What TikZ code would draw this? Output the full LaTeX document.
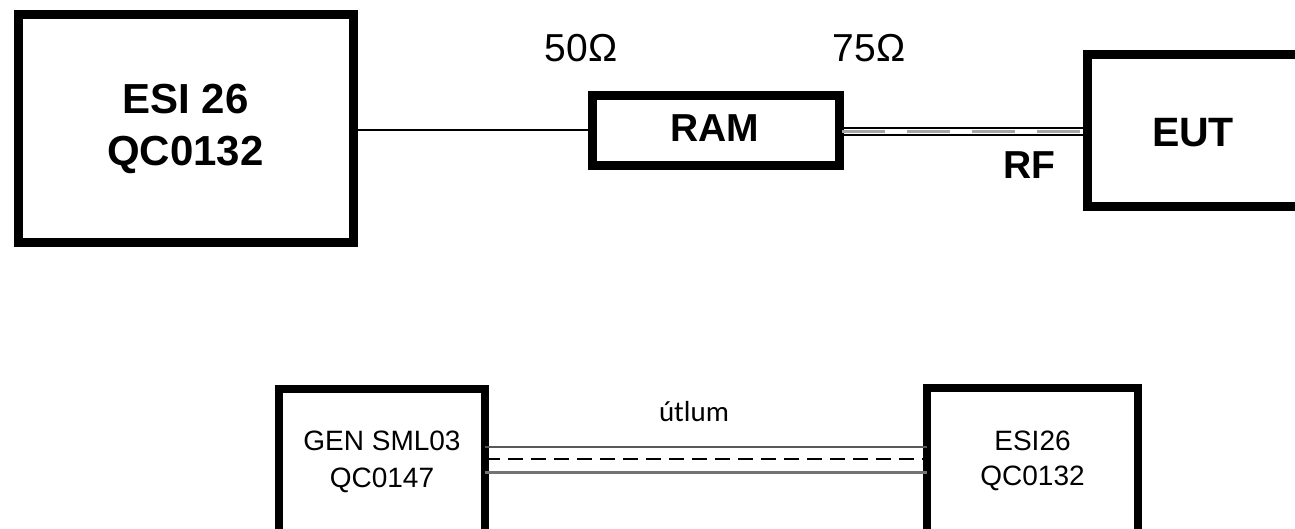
\documentclass[tikz,border=0pt]{standalone}
\usepackage{fontspec}
\setmainfont{Liberation Sans}
\newfontfamily\calib{Carlito}
\begin{document}
\begin{tikzpicture}[x=1pt,y=-1pt,
  bigbox/.style={draw=black,line width=9pt,fill=white,inner sep=0pt,outer sep=0pt,align=center},
  smallbox/.style={draw=black,line width=8pt,fill=white,inner sep=0pt,outer sep=0pt,align=center},
  lbl/.style={inner sep=0pt}]
\useasboundingbox (0,0) rectangle (1295,529);
\fill[white] (0,0) rectangle (1295,529);
% top row boxes
\node[bigbox,minimum width=335pt,minimum height=228pt,font=\fontsize{42}{52}\selectfont\bfseries] (esi) at (185.5,129) {ESI 26\\QC0132};
\node[bigbox,minimum width=247pt,minimum height=70pt] (ram) at (715.5,131) {};
\node[lbl,font=\fontsize{39}{46}\selectfont\bfseries] (ramt) at (715,128) {RAM};
\node[bigbox,minimum width=218pt,minimum height=152pt] (eut) at (1196,131) {};
\node[lbl,font=\fontsize{41}{48}\selectfont\bfseries] (eutt) at (1193,133) {EUT};
\node[lbl,font=\fontsize{39}{46}\selectfont\bfseries] (rf) at (1029,165) {RF};
\node[lbl,font=\fontsize{39}{46}\selectfont] (z50) at (581,48) {50Ω};
\node[lbl,font=\fontsize{39}{46}\selectfont] (z75) at (869,48) {75Ω};
% top connectors
\draw[line width=2pt] (esi.east |- 0,130) -- (ram.west |- 0,130);
\draw[line width=2pt] (ram.east |- 0,128) -- (eut.west |- 0,128);
\draw[line width=2pt] (ram.east |- 0,135) -- (eut.west |- 0,135);
\draw[line width=3pt,gray!70,dash pattern=on 43pt off 22pt] ([xshift=3pt]ram.east |- 0,131.5) -- (eut.west |- 0,131.5);
% bottom row
\node[smallbox,minimum width=206pt,minimum height=146pt,font=\fontsize{28}{37}\selectfont] (gen) at (382,462) {GEN SML03\\QC0147};
\node[smallbox,minimum width=211pt,minimum height=146pt,font=\fontsize{28}{35}\selectfont] (esi2) at (1032.5,461) {ESI26\\QC0132};
\draw[line width=2pt,black!65] (gen.east |- 0,447) -- (esi2.west |- 0,447);
\draw[line width=3pt,black!55] (gen.east |- 0,472) -- (esi2.west |- 0,472);
\draw[line width=2pt,dash pattern=on 15pt off 8pt] (gen.east |- 0,459) -- (esi2.west |- 0,459);
\node[lbl,font=\calib\fontsize{29}{34}\selectfont] (utl) at (694,412) {útlum};
\end{tikzpicture}
\end{document}
